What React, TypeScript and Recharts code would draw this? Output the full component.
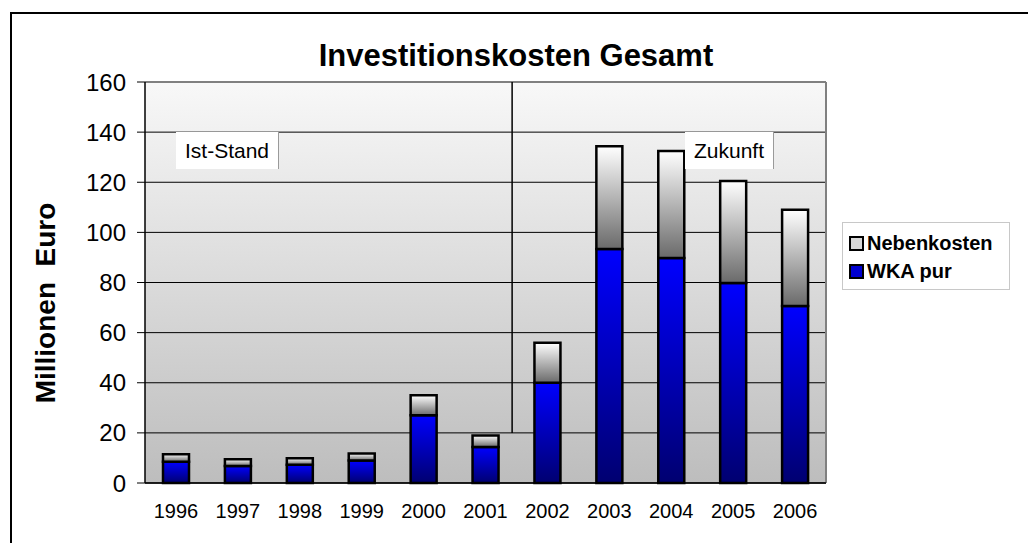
import React from 'react';
import { BarChart, Bar, XAxis, YAxis, CartesianGrid, ReferenceLine, Legend } from 'recharts';

const years = ['1996', '1997', '1998', '1999', '2000', '2001', '2002', '2003', '2004', '2005', '2006'];
const wkaPur = [8.5, 6.8, 7.3, 9, 27, 14.4, 40, 93.4, 89.8, 79.8, 70.6];
const nebenkosten = [3, 2.7, 2.6, 2.8, 8, 4.6, 16, 41, 42.7, 40.7, 38.4];
const yTicks = [0, 20, 40, 60, 80, 100, 120, 140, 160];
const boundaryTicks = [0, 1, 2, 3, 4, 5, 6, 7, 8, 9, 10, 11];
const dividerPos = 5.93;

const data = years.map((y, i) => ({ year: y, wka: wkaPur[i], neben: nebenkosten[i] }));

const FONT = '"Liberation Sans", Arial, sans-serif';

const LegendContent = () => (
  <div
    style={{
      width: 168,
      height: 68,
      boxSizing: 'border-box',
      border: '1px solid #c8c8c8',
      background: '#fff',
      fontFamily: FONT,
      fontWeight: 'bold',
      fontSize: 20,
      paddingLeft: 6,
      paddingTop: 6,
    }}
  >
    {[
      { name: 'Nebenkosten', fill: 'url(#gNeben)' },
      { name: 'WKA pur', fill: 'url(#gWka)' },
    ].map((it) => (
      <div key={it.name} style={{ display: 'flex', alignItems: 'center', height: 28 }}>
        <svg width={15} height={15} style={{ marginRight: 3 }}>
          <rect x={1} y={1} width={13} height={13} fill={it.name === 'WKA pur' ? '#0000d0' : '#d8d8d8'} stroke="#000" strokeWidth={2} />
        </svg>
        <span>{it.name}</span>
      </div>
    ))}
  </div>
);

export default function App() {
  return (
    <div style={{ position: 'absolute', left: 0, top: 0, width: 1028, height: 543, overflow: 'hidden', background: '#fff' }}>
      <div
        style={{
          position: 'absolute',
          left: 10,
          top: 12,
          width: 1100,
          height: 600,
          border: '2px solid #000',
        }}
      />
      <BarChart
        width={1028}
        height={543}
        data={data}
        margin={{ top: 82, right: 202, bottom: 30, left: 0 }}
        barSize={26}
        style={{ position: 'absolute', left: 0, top: 0 }}
      >
        <defs>
          <linearGradient id="gBg" x1="0" y1="0" x2="0" y2="1">
            <stop offset="0%" stopColor="#f8f8f8" />
            <stop offset="100%" stopColor="#bdbdbd" />
          </linearGradient>
          <linearGradient id="gWka" x1="0" y1="0" x2="0" y2="1">
            <stop offset="0%" stopColor="#0000ff" />
            <stop offset="100%" stopColor="#000070" />
          </linearGradient>
          <linearGradient id="gNeben" x1="0" y1="0" x2="0" y2="1">
            <stop offset="0%" stopColor="#ffffff" />
            <stop offset="100%" stopColor="#6a6a6a" />
          </linearGradient>
        </defs>
        <CartesianGrid vertical={false} stroke="#000" strokeWidth={1} fill="url(#gBg)" fillOpacity={1} />
        <XAxis
          xAxisId="n"
          type="number"
          dataKey="idx"
          domain={[0, 11]}
          ticks={boundaryTicks}
          height={0}
          axisLine={false}
          tickLine={{ stroke: '#000', strokeWidth: 1 }}
          tickSize={6}
          tickFormatter={() => ''}
          allowDataOverflow
        />
        <XAxis
          xAxisId="c"
          dataKey="year"
          height={30}
          axisLine={{ stroke: '#000', strokeWidth: 1.5 }}
          tickLine={false}
          tickSize={0}
          tickMargin={21}
          tick={{ fontFamily: FONT, fontSize: 20, fill: '#000' }}
          interval={0}
        />
        <YAxis
          width={145}
          domain={[0, 160]}
          ticks={yTicks}
          interval={0}
          axisLine={{ stroke: '#000', strokeWidth: 1.5 }}
          tickLine={{ stroke: '#000' }}
          tickSize={8}
          tickMargin={11}
          tick={{ fontFamily: FONT, fontSize: 24, fill: '#000' }}
        />
        <ReferenceLine y={160} xAxisId="c" stroke="#808080" strokeWidth={2} />
        <ReferenceLine x={11} xAxisId="n" stroke="#808080" strokeWidth={2} />
        <ReferenceLine
          xAxisId="n"
          segment={[
            { x: dividerPos, y: 20 },
            { x: dividerPos, y: 160 },
          ]}
          stroke="#000"
          strokeWidth={1.5}
        />
        <Bar xAxisId="c" dataKey="wka" name="WKA pur" stackId="a" fill="url(#gWka)" stroke="#000" strokeWidth={2.5} isAnimationActive={false} />
        <Bar xAxisId="c" dataKey="neben" name="Nebenkosten" stackId="a" fill="url(#gNeben)" stroke="#000" strokeWidth={2.5} isAnimationActive={false} />
        <Legend
          layout="horizontal"
          verticalAlign="middle"
          align="center"
          content={<LegendContent />}
          wrapperStyle={{ position: 'absolute', left: 842, top: 222, width: 168, height: 68 }}
        />
      </BarChart>
      <div
        style={{
          position: 'absolute',
          left: 0,
          width: 1028,
          top: 38,
          textAlign: 'center',
          fontFamily: FONT,
          fontWeight: 'bold',
          fontSize: 31,
          lineHeight: '36px',
          paddingLeft: 2,
        }}
      >
        Investitionskosten Gesamt
      </div>
      <div
        style={{
          position: 'absolute',
          left: 46,
          top: 303,
          transform: 'translate(-50%, -50%) rotate(-90deg)',
          whiteSpace: 'pre',
          fontFamily: FONT,
          fontWeight: 'bold',
          fontSize: 28,
          lineHeight: '30px',
        }}
      >
        {'Millionen  Euro'}
      </div>
      <div
        style={{
          position: 'absolute',
          left: 176,
          top: 132,
          width: 103,
          height: 37,
          boxSizing: 'border-box',
          background: '#fff',
          borderRight: '1px solid #9a9a9a',
          fontFamily: FONT,
          fontSize: 21,
          lineHeight: '37px',
          textAlign: 'center',
        }}
      >
        Ist-Stand
      </div>
      <div
        style={{
          position: 'absolute',
          left: 685,
          top: 132,
          width: 89,
          height: 37,
          boxSizing: 'border-box',
          background: '#fff',
          borderRight: '1px solid #9a9a9a',
          fontFamily: FONT,
          fontSize: 21,
          lineHeight: '37px',
          textAlign: 'center',
        }}
      >
        Zukunft
      </div>
    </div>
  );
}
